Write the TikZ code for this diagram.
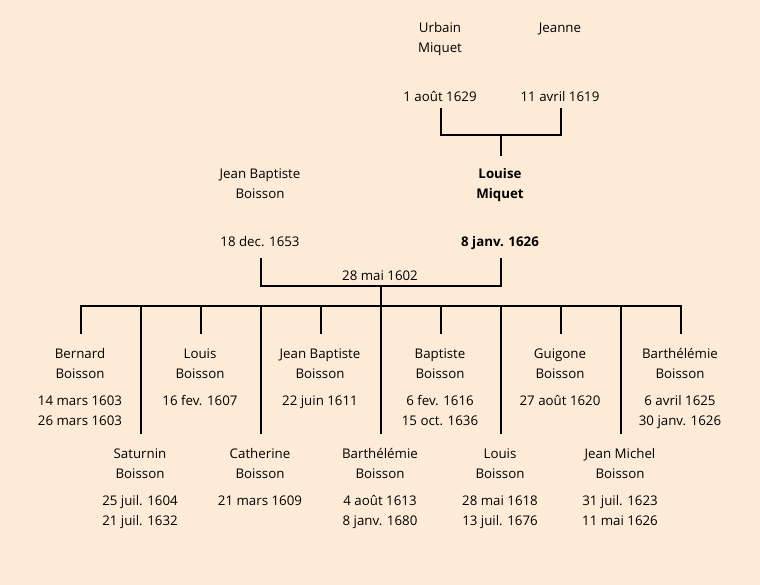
\documentclass[tikz,border=0pt]{standalone}
\usepackage{fontspec}
\setmainfont{Open Sans}
\definecolor{bg}{RGB}{253,235,215}
\begin{document}
\begin{tikzpicture}[x=1pt,y=-1pt,
  lbl/.style={font=\fontsize{13.3}{20}\selectfont, align=center, inner sep=0pt, anchor=north},
  blbl/.style={lbl, font=\fontsize{13.3}{20}\selectfont\bfseries},
  conn/.style={line width=2pt, line cap=rect}]
\fill[bg] (0,0) rectangle (760,585);
\useasboundingbox (0,0) rectangle (760,585);
% grandparents
\node[lbl] (urbain) at (440,18) {\strut Urbain\\Miquet};
\node[lbl] (urbaind) at (440,87) {\strut 1 août 1629};
\node[lbl] (jeanne) at (560,18) {\strut Jeanne};
\node[lbl] (jeanned) at (560,87) {\strut 11 avril 1619};
\coordinate (u1) at (441,109);
\coordinate (j1) at (561,109);
\coordinate (u2) at (441,135);
\coordinate (j2) at (561,135);
\coordinate (m1) at (501,135);
\coordinate (m2) at (501,155);
\draw[conn] (u1) -- (u2) -- (j2) -- (j1);
\draw[conn] (m1) -- (m2);
% parents
\node[lbl] (jb) at (260,164) {\strut Jean Baptiste\\Boisson};
\node[lbl] (jbd) at (260,232) {\strut 18 dec. 1653};
\node[blbl] (lm) at (500,164) {\strut Louise\\Miquet};
\node[blbl] (lmd) at (500,232) {\strut 8 janv. 1626};
\coordinate (p1) at (261,259);
\coordinate (p2) at (261,286);
\coordinate (q1) at (501,259);
\coordinate (q2) at (501,286);
\coordinate (c1) at (381,286);
\coordinate (c2) at (381,306);
\draw[conn] (p1) -- (p2) -- (q2) -- (q1);
\draw[conn] (c1) -- (c2);
\node[lbl] (mar) at (380,266) {\strut 28 mai 1602};
% sibling bar
\coordinate (bl) at (81,306);
\coordinate (br) at (681,306);
\draw[conn] (bl) -- (br);
% top row children
\foreach \x/\n/\d [count=\i] in {
  81/Bernard\\Boisson/14 mars 1603\\26 mars 1603,
  201/Louis\\Boisson/16 fev. 1607,
  321/Jean Baptiste\\Boisson/22 juin 1611,
  441/Baptiste\\Boisson/6 fev. 1616\\15 oct. 1636,
  561/Guigone\\Boisson/27 août 1620,
  681/Barthélémie\\Boisson/6 avril 1625\\30 janv. 1626}{
  \coordinate (ta\i) at (\x,306);
  \coordinate (tb\i) at (\x,333);
  \draw[conn] (ta\i) -- (tb\i);
  \node[lbl] (tn\i) at (\x-1,344) {\strut\n};
  \node[lbl] (td\i) at (\x-1,391) {\strut\d};
}
% bottom row children
\foreach \x/\n/\d [count=\i] in {
  141/Saturnin\\Boisson/25 juil. 1604\\21 juil. 1632,
  261/Catherine\\Boisson/21 mars 1609,
  381/Barthélémie\\Boisson/4 août 1613\\8 janv. 1680,
  501/Louis\\Boisson/28 mai 1618\\13 juil. 1676,
  621/Jean Michel\\Boisson/31 juil. 1623\\11 mai 1626}{
  \coordinate (ba\i) at (\x,306);
  \coordinate (bb\i) at (\x,433);
  \draw[conn] (ba\i) -- (bb\i);
  \node[lbl] (bn\i) at (\x-1,444) {\strut\n};
  \node[lbl] (bd\i) at (\x-1,491) {\strut\d};
}
\end{tikzpicture}
\end{document}
